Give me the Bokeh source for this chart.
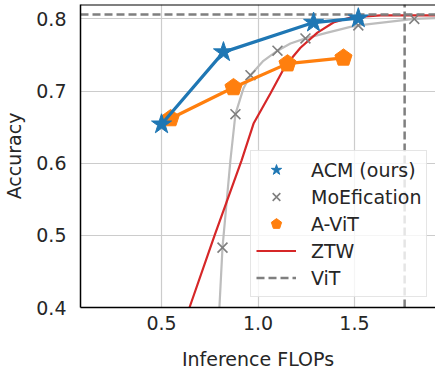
from bokeh.plotting import figure
from bokeh.models import FixedTicker, Span, Legend, LegendItem, PrintfTickFormatter
from bokeh.embed import file_html
from bokeh.resources import INLINE

# ---- data ----
acm_flops = [0.50, 0.821, 1.288, 1.52]
acm_acc = [0.654, 0.754, 0.795, 0.801]

avit_flops = [0.547, 0.873, 1.153, 1.443]
avit_acc = [0.662, 0.705, 0.738, 0.746]

moe_flops = [0.816, 0.883, 0.961, 1.101, 1.246, 1.52, 1.81]
moe_acc = [0.483, 0.668, 0.722, 0.756, 0.773, 0.791, 0.800]

moe_curve_flops = [0.80, 0.816, 0.857, 0.883, 0.925, 0.961, 1.028, 1.101, 1.168, 1.246, 1.36, 1.479, 1.52, 1.81, 1.92]
moe_curve_acc = [0.40, 0.483, 0.604, 0.668, 0.704, 0.722, 0.742, 0.756, 0.766, 0.773, 0.781, 0.789, 0.791, 0.800, 0.801]

ztw_flops = [0.645, 0.775, 0.915, 0.977, 1.065, 1.142, 1.22, 1.308, 1.391, 1.479, 1.635, 1.92]
ztw_acc = [0.400, 0.500, 0.604, 0.655, 0.697, 0.735, 0.760, 0.781, 0.795, 0.802, 0.805, 0.805]

vit_flops = 1.76
vit_acc = 0.806

x_ticks = [0.5, 1.0, 1.5]
y_ticks = [0.4, 0.5, 0.6, 0.7, 0.8]
x_lim = (0.08, 1.92)
y_lim = (0.4, 0.82)

BLUE = "#1f77b4"
ORANGE = "#ff7f0e"
RED = "#d62728"
GRAY = "#7f7f7f"
TXT = "#262626"
FONT = "DejaVu Sans"

p = figure(width=435, height=372, output_backend="svg", toolbar_location=None,
           x_range=x_lim, y_range=y_lim,
           min_border_left=80, min_border_right=0, min_border_top=4, min_border_bottom=64)
p.outline_line_color = None
p.background_fill_color = "white"

for ax, ticks in ((p.xaxis, x_ticks), (p.yaxis, y_ticks)):
    ax.ticker = FixedTicker(ticks=ticks)
    ax.formatter = PrintfTickFormatter(format="%.1f")
    ax.major_tick_line_color = None
    ax.minor_tick_line_color = None
    ax.major_tick_out = 0
    ax.major_tick_in = 0
    ax.axis_line_color = "black"
    ax.axis_line_width = 1.5
    ax.major_label_text_font = FONT
    ax.major_label_text_font_size = "19px"
    ax.major_label_text_color = TXT
    ax.axis_label_text_font = FONT
    ax.axis_label_text_font_size = "19px"
    ax.axis_label_text_font_style = "normal"
    ax.axis_label_text_color = TXT

p.xaxis.axis_label = "Inference FLOPs"
p.yaxis.axis_label = "Accuracy"
p.xaxis.major_label_standoff = 8
p.yaxis.major_label_standoff = 14
p.xaxis.axis_label_standoff = 15
p.yaxis.axis_label_standoff = 8

p.xgrid.ticker = FixedTicker(ticks=x_ticks)
p.ygrid.ticker = FixedTicker(ticks=y_ticks)
p.grid.grid_line_color = "#cccccc"
p.grid.grid_line_width = 1.2

top_border = Span(location=y_lim[1], dimension="width", line_color="black", line_width=2)
p.add_layout(top_border)

# curves
moe_line = p.line(moe_curve_flops, moe_curve_acc, line_color="#bdbdbd", line_width=2.2)
ztw = p.line(ztw_flops, ztw_acc, line_color=RED, line_width=2.2)
vit_h = p.line([x_lim[0], x_lim[1]], [vit_acc, vit_acc], line_color=GRAY, line_width=2.5, line_dash="8 4")
vit_v = p.line([vit_flops, vit_flops], [y_lim[0], y_lim[1]], line_color=GRAY, line_width=2.5, line_dash="8 4")

moe = p.scatter(moe_flops, moe_acc, marker="x", size=14, line_color=GRAY, line_width=1.6)

p.line(avit_flops, avit_acc, line_color=ORANGE, line_width=3.2)
avit = p.ngon(avit_flops, avit_acc, radius=9, radius_units="screen", n=5,
              fill_color=ORANGE, line_color=ORANGE, angle=0)

p.line(acm_flops, acm_acc, line_color=BLUE, line_width=3.2)
acm = p.scatter(acm_flops, acm_acc, marker="star", size=21, fill_color=BLUE, line_color=BLUE)

legend = Legend(items=[
    LegendItem(label="ACM (ours)", renderers=[acm]),
    LegendItem(label="MoEfication", renderers=[moe]),
    LegendItem(label="A-ViT", renderers=[avit]),
    LegendItem(label="ZTW", renderers=[ztw]),
    LegendItem(label="ViT", renderers=[vit_h]),
], location=(170, 10))
legend.padding = 5
legend.spacing = 0
legend.margin = 0
legend.glyph_height = 27
legend.label_height = 27
legend.glyph_width = 40
legend.label_standoff = 15
legend.label_text_font = FONT
legend.label_text_font_size = "19px"
legend.label_text_color = TXT
legend.border_line_color = "#cccccc"
legend.background_fill_alpha = 0.8
p.add_layout(legend)

open("out.html", "w").write(file_html(p, INLINE))
